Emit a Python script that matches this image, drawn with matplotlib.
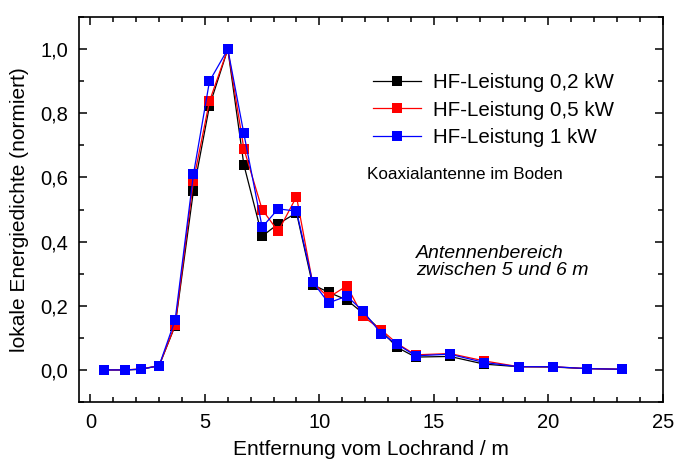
import matplotlib.pyplot as plt
from matplotlib.ticker import MultipleLocator, FuncFormatter

plt.rcParams["font.family"] = ["Liberation Sans", "DejaVu Sans"]

distance = [0.6, 1.5, 2.2, 3.0, 3.7, 4.5, 5.2, 6.0, 6.7, 7.5, 8.2, 9.0, 9.7,
            10.4, 11.2, 11.9, 12.7, 13.4, 14.2, 15.7, 17.2, 18.7, 20.2, 21.7, 23.2]
p02 = [0.0, 0.0, 0.002, 0.013, 0.138, 0.559, 0.823, 1.0, 0.64, 0.417, 0.455, 0.49, 0.266,
       0.242, 0.218, 0.177, 0.122, 0.07, 0.04, 0.042, 0.018, 0.01, 0.009, 0.004, 0.002]
p05 = [0.0, 0.0, 0.003, 0.013, 0.14, 0.59, 0.838, 1.0, 0.69, 0.5, 0.432, 0.54, 0.273,
       0.226, 0.262, 0.167, 0.125, 0.082, 0.047, 0.051, 0.028, 0.01, 0.01, 0.004, 0.002]
p1 = [0.0, 0.0, 0.002, 0.013, 0.156, 0.61, 0.9, 1.0, 0.737, 0.445, 0.502, 0.495, 0.275,
      0.209, 0.23, 0.184, 0.113, 0.08, 0.044, 0.049, 0.023, 0.01, 0.01, 0.004, 0.002]
labels = ["HF-Leistung 0,2 kW", "HF-Leistung 0,5 kW", "HF-Leistung 1 kW"]
colors = ["black", "#ff0000", "#0000ff"]

fig = plt.figure(figsize=(6.75, 4.61), dpi=100)
ax = fig.add_axes([0.117, 0.128, 0.865, 0.835])

for y, lab, c in zip([p02, p05, p1], labels, colors):
    ax.plot(distance, y, color=c, linewidth=0.9, marker="s", markersize=7.5,
            markeredgewidth=0, label=lab)

ax.set_xlim(-0.5, 25)
ax.set_ylim(-0.1, 1.1)
ax.xaxis.set_major_locator(MultipleLocator(5))
ax.xaxis.set_minor_locator(MultipleLocator(1))
ax.yaxis.set_major_locator(MultipleLocator(0.2))
ax.yaxis.set_minor_locator(MultipleLocator(0.1))
ax.yaxis.set_major_formatter(FuncFormatter(lambda v, p: f"{v:.1f}".replace(".", ",")))
ax.tick_params(which="both", direction="in", top=True, right=True, width=1.1,
               labelsize=14.5)
ax.tick_params(which="major", length=6, pad=8)
ax.tick_params(which="minor", length=3.5)
for s in ax.spines.values():
    s.set_linewidth(1.2)

ax.set_xlabel("Entfernung vom Lochrand / m", fontsize=15, labelpad=6)
ax.set_ylabel("lokale Energiedichte (normiert)", fontsize=15, labelpad=8)

ax.legend(loc="upper left", bbox_to_anchor=(0.49, 0.875), frameon=False,
          fontsize=14.8, handlelength=2.3, handletextpad=0.6, labelspacing=0.4,
          borderaxespad=0)
ax.text(0.493, 0.59, "Koaxialantenne im Boden", transform=ax.transAxes,
        fontsize=12.3, va="center")
ax.text(0.577, 0.364, "Antennenbereich\nzwischen 5 und 6 m", transform=ax.transAxes,
        fontsize=14, style="italic", va="center", linespacing=1.05)

fig.savefig("out.png", dpi=100)
